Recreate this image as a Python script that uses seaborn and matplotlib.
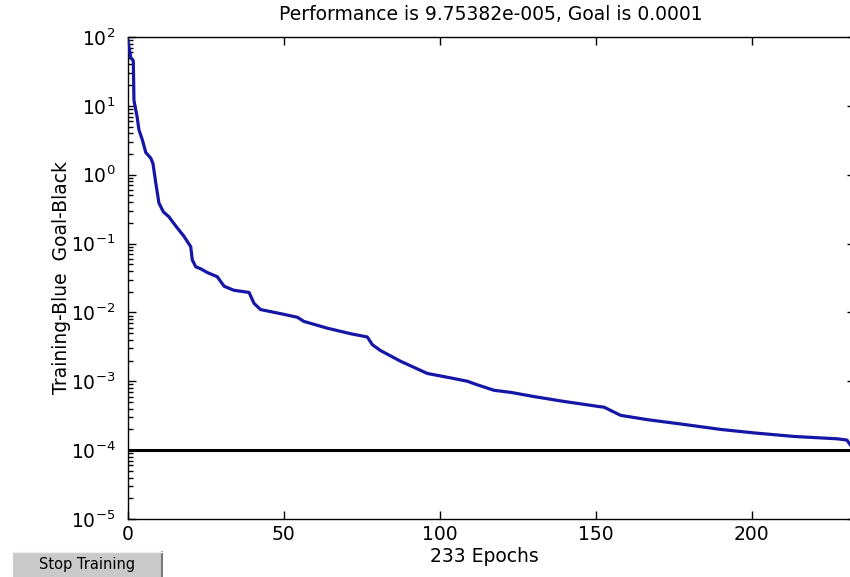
import matplotlib
matplotlib.use("Agg")
import matplotlib.pyplot as plt
import numpy as np
import pandas as pd
import seaborn as sns
from matplotlib.patches import Rectangle
from matplotlib.ticker import FixedLocator, LogLocator, NullFormatter, NullLocator

# Training record: mean squared error per epoch
epochs = [0, 1, 1.8, 2, 3, 3.6, 4.7, 5.8, 7.4, 8.1, 9, 10, 11.4, 13.2, 15.4, 18,
          20.2, 20.7, 21.8, 23.4, 25.5, 28.7, 30.9, 34, 38.9, 40.5, 42.6, 49,
          54.4, 56.5, 64, 71.5, 76.8, 78.4, 81, 87.5, 96, 103.5, 108.9, 112,
          117.4, 122.8, 130.2, 139.8, 151, 152.7, 158, 166.6, 177.2, 190,
          200.7, 213.6, 227.5, 230.5, 233]
performance = [90, 50, 45, 12, 7, 4.5, 3.2, 2.1, 1.74, 1.45, 0.76, 0.39, 0.29,
               0.245, 0.18, 0.128, 0.09, 0.058, 0.046, 0.043, 0.038, 0.033,
               0.024, 0.021, 0.0195, 0.0135, 0.011, 0.0096, 0.0085, 0.0074,
               0.0059, 0.0049, 0.0044, 0.0034, 0.0028, 0.00195, 0.0013,
               0.00112, 0.001, 0.00089, 0.00074, 0.00069, 0.0006, 0.00051,
               0.00043, 0.00042, 0.00032, 0.000277, 0.00024, 0.0002,
               0.000178, 0.000158, 0.000146, 0.00014, 9.75382e-5]

goal = 1e-4
final_perf = 9.75382e-5
n_epochs = 233

x_ticks = [0, 50, 100, 150, 200]
y_exponents = [-5, -4, -3, -2, -1, 0, 1, 2]
y_tick_labels = [rf"$10^{{{e}}}$" for e in y_exponents]


def matlab_exp(v):
    mant, exp = f"{v:.5e}".split("e")
    sign = "-" if exp.startswith("-") else "+"
    return f"{mant}e{sign}{abs(int(exp)):03d}"


title_text = f"Performance is {matlab_exp(final_perf)}, Goal is {goal:g}"

sns.set_style("white")
plt.rcParams["font.family"] = ["DejaVu Sans"]
plt.rcParams["mathtext.default"] = "regular"
plt.rcParams["text.color"] = "black"
plt.rcParams["axes.labelcolor"] = "black"
plt.rcParams["xtick.color"] = "black"
plt.rcParams["ytick.color"] = "black"

W, H = 850, 577
fig = plt.figure(figsize=(W / 100, H / 100), dpi=100)
fig.patch.set_facecolor("white")

ax_left, ax_right, ax_top, ax_bottom = 127.7, 854.7, 37, 519
ax = fig.add_axes([ax_left / W, (H - ax_bottom) / H,
                   (ax_right - ax_left) / W, (ax_bottom - ax_top) / H])

df = pd.DataFrame({"epoch": epochs, "performance": performance})
ax.axhline(goal, color="black", lw=2.2, zorder=2)
sns.lineplot(data=df, x="epoch", y="performance", ax=ax, color="#1616a6",
             lw=2.3, estimator=None, sort=False, zorder=3)

ax.set_yscale("log")
ax.set_xlim(0, n_epochs)
ax.set_ylim(10.0 ** y_exponents[0], 10.0 ** y_exponents[-1])

ax.xaxis.set_major_locator(FixedLocator(x_ticks))
ax.set_xticklabels([str(t) for t in x_ticks])
ax.xaxis.set_minor_locator(NullLocator())
ax.yaxis.set_major_locator(FixedLocator([10.0 ** e for e in y_exponents]))
ax.set_yticklabels(y_tick_labels)
ax.yaxis.set_minor_locator(LogLocator(base=10, subs=np.arange(2, 10)))
ax.yaxis.set_minor_formatter(NullFormatter())

for sp in ax.spines.values():
    sp.set_visible(True)
    sp.set_color("black")
    sp.set_linewidth(1.0)

ax.tick_params(which="both", direction="in", left=True, bottom=True,
               top=True, right=True, color="black", width=1.0,
               labelcolor="black")
ax.tick_params(which="major", length=6)
ax.tick_params(which="minor", length=3.5)
ax.tick_params(axis="x", labelsize=13.5, pad=4)
ax.tick_params(axis="y", labelsize=13.5, pad=9)

ax.set_title(title_text, fontsize=13.5, pad=12, color="black")
ax.set_xlabel(f"{n_epochs} Epochs", fontsize=13.5)
ax.xaxis.set_label_coords(0.49, -0.058)
ax.xaxis.label.set_va("top")
ax.set_ylabel("Training-Blue  Goal-Black", fontsize=13.5)
ax.yaxis.set_label_coords(-0.078, 0.5)

# "Stop Training" button below the axes
bx0, by0, bx1, by1 = 12.7, 551.7, 161.7, 577
fig.patches.append(Rectangle((bx0 / W, (H - by1) / H), (bx1 - bx0) / W,
                             (by1 - by0) / H, transform=fig.transFigure,
                             facecolor="#c9c9c9", edgecolor="none"))
fig.lines.append(plt.Line2D([bx1 / W, bx1 / W], [(H - by1) / H, (H - by0) / H],
                            transform=fig.transFigure, color="#7a7a7a", lw=1.5))
fig.lines.append(plt.Line2D([bx0 / W, bx1 / W], [(H - by0) / H, (H - by0) / H],
                            transform=fig.transFigure, color="#efefef", lw=1.0))
fig.text((bx0 + bx1) / 2 / W, (H - (by0 + by1) / 2) / H, "Stop Training",
         ha="center", va="center", fontsize=10.5, color="black")

fig.savefig("out.png", dpi=100, facecolor="white")
